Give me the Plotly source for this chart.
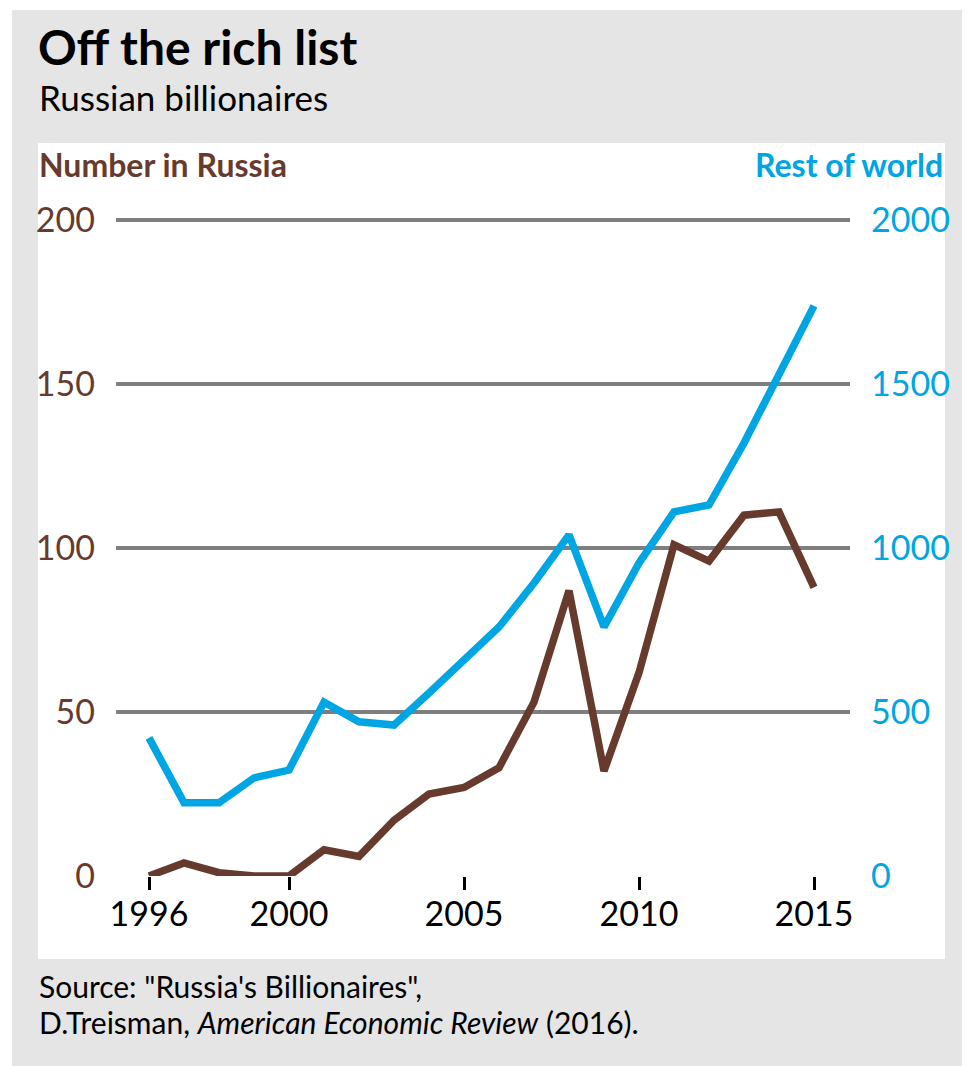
import plotly.graph_objects as go

years = list(range(1996, 2016))
russia = [0, 4, 1, 0, 0, 8, 6, 17, 25, 27, 33, 53, 87, 32, 62, 101, 96, 110, 111, 88]
rest_of_world = [421, 223, 223, 299, 323, 530, 470, 460, 558, 659, 759, 893, 1040, 759, 954, 1110, 1131, 1320, 1534, 1738]
left_ticks = [0, 50, 100, 150, 200]
right_ticks = [0, 500, 1000, 1500, 2000]
x_ticks = [1996, 2000, 2005, 2010, 2015]

OFF = 8  # page offset of the figure inside the browser window
W, H = 970 - OFF, 1066 - OFF
PX_PER_UNIT = 656 / 200
TOP_EXTRA = 1.5  # a bit of headroom so the 200 gridline is drawn
L, R = 116 - OFF, 850 - OFF
B = 876 - OFF
T = B - (200 + TOP_EXTRA) * PX_PER_UNIT
BROWN = "#673a2e"
BLUE = "#00a5e3"
GRAY_BG = "#e5e5e5"
FONT = "Lato"


def px(x):
    return (x - OFF - L) / (R - L)


def py(y):
    return (B - (y - OFF)) / (B - T)


fig = go.Figure()
fig.add_trace(go.Scatter(x=years, y=russia, mode="lines", yaxis="y",
                         line=dict(color=BROWN, width=7.5), showlegend=False))
fig.add_trace(go.Scatter(x=years, y=rest_of_world, mode="lines", yaxis="y2",
                         line=dict(color=BLUE, width=7.5), showlegend=False))

shapes = [
    dict(type="rect", xref="paper", yref="paper", x0=px(0), x1=px(1200), y0=py(-50), y1=py(10),
         fillcolor="white", line_width=0, layer="below"),
    dict(type="rect", xref="paper", yref="paper", x0=px(-50), x1=px(12), y0=py(-50), y1=py(1200),
         fillcolor="white", line_width=0, layer="below"),
    dict(type="rect", xref="paper", yref="paper", x0=px(962), x1=px(1200), y0=py(-50), y1=py(1200),
         fillcolor="white", line_width=0, layer="below"),
    dict(type="rect", xref="paper", yref="paper", x0=px(38), x1=px(945), y0=py(143), y1=py(959),
         fillcolor="white", line_width=0, layer="below"),
]

annotations = [
    dict(text="<b>Off the rich list</b>", x=px(36), y=py(47), xanchor="left", yanchor="middle",
         font=dict(family=FONT, size=48, color="black")),
    dict(text="Russian billionaires", x=px(37), y=py(97), xanchor="left", yanchor="middle",
         font=dict(family=FONT, size=35, color="black")),
    dict(text="<b>Number in Russia</b>", x=px(37), y=py(165), xanchor="left", yanchor="middle",
         font=dict(family=FONT, size=32, color=BROWN)),
    dict(text="<b>Rest of world</b>", x=px(945), y=py(165), xanchor="right", yanchor="middle",
         font=dict(family=FONT, size=32, color=BLUE)),
    dict(text='Source: "Russia\'s Billionaires",', x=px(37), y=py(986), xanchor="left", yanchor="middle",
         font=dict(family=FONT, size=30, color="black")),
    dict(text="D.Treisman, <i>American Economic Review</i> (2016).", x=px(37), y=py(1022),
         xanchor="left", yanchor="middle", font=dict(family=FONT, size=30, color="black")),
]
for a in annotations:
    a.update(xref="paper", yref="paper", showarrow=False)

fig.update_layout(
    width=W, height=H,
    margin=dict(l=L, r=W - R, t=T, b=H - B, pad=0, autoexpand=False),
    paper_bgcolor=GRAY_BG, plot_bgcolor="rgba(0,0,0,0)",
    shapes=shapes, annotations=annotations, showlegend=False,
    xaxis=dict(range=[1996 - 33 / 35, 1996 + 701 / 35], tickvals=x_ticks,
               ticks="outside", ticklen=13, tickwidth=2.5, tickcolor="black",
               showgrid=False, zeroline=False, showline=False,
               tickfont=dict(family=FONT, size=34, color="black"), ticklabelstandoff=-5),
    yaxis=dict(range=[0, 200 + TOP_EXTRA], tickvals=left_ticks, showgrid=True, gridcolor="#7f7f7f",
               gridwidth=3.5, zeroline=False, showline=False, ticks="",
               tickfont=dict(family=FONT, size=34, color=BROWN), ticklabelstandoff=20),
    yaxis2=dict(range=[0, (200 + TOP_EXTRA) * 10], tickvals=right_ticks, overlaying="y", side="right",
                showgrid=False, zeroline=False, showline=False, ticks="",
                tickfont=dict(family=FONT, size=34, color=BLUE), ticklabelstandoff=20),
)

fig.write_html("out.html")
